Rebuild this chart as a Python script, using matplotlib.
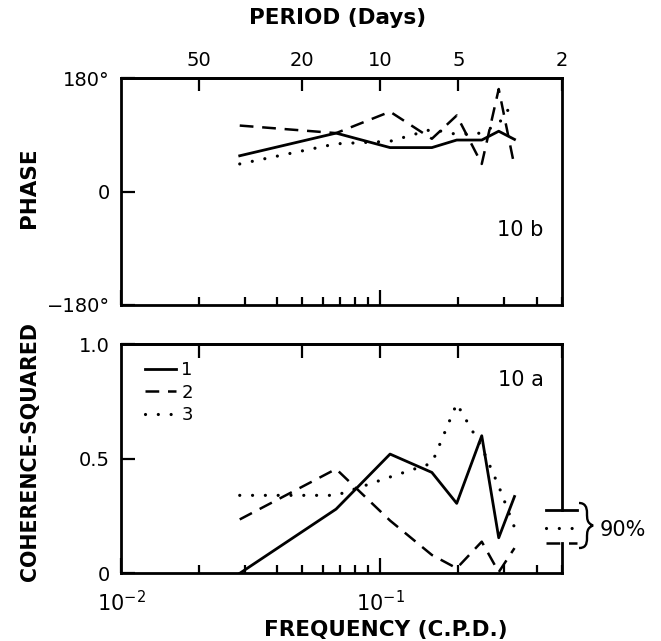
import numpy as np
import matplotlib
matplotlib.use("Agg")
import matplotlib.pyplot as plt
from matplotlib.path import Path
from matplotlib.patches import PathPatch
from matplotlib.ticker import FixedLocator, NullLocator, NullFormatter, LogLocator

# Band-averaged frequencies (cycles per day)
freq = [0.0287, 0.0675, 0.109, 0.158, 0.197, 0.246, 0.286, 0.329]

# Phase (degrees) for the three pairs
phase_1 = [57, 93, 70, 70, 82, 82, 96, 83]
phase_2 = [105, 93, 127, 84, 121, 44, 163, 40]
phase_3 = [44, 76, 80, 99, 91, 93, 108, 145]

# Coherence-squared for the three pairs
coh_1 = [0.0, 0.28, 0.52, 0.44, 0.305, 0.60, 0.155, 0.335]
coh_2 = [0.235, 0.455, 0.23, 0.08, 0.022, 0.138, 0.005, 0.11]
coh_3 = [0.34, 0.34, 0.42, 0.48, 0.74, 0.55, 0.38, 0.20]

series_labels = ["1", "2", "3"]
# 90% significance levels of coherence-squared
sig90 = [0.276, 0.131, 0.196]

period_ticks = [50, 20, 10, 5, 2]
phase_ticks = [-180, 0, 180]
phase_ticklabels = ["\u2212180°", "0", "180°"]
coh_ticks = [0, 0.5, 1.0]
coh_ticklabels = ["0", "0.5", "1.0"]

XLIM = (0.01, 0.5)
LW_AX = 2.0
TICK_FS = 14
LABEL_FS = 15.5
styles = [
    dict(linestyle="-", linewidth=2.0),
    dict(linestyle=(0, (5.5, 3.5)), linewidth=1.8),
    dict(linestyle=(0, (0.01, 4.0)), linewidth=2.3, dash_capstyle="round"),
]

fig = plt.figure(figsize=(6.61, 6.41), dpi=100)
ax1 = fig.add_axes([0.183, 0.5242, 0.6667, 0.3536])
ax2 = fig.add_axes([0.183, 0.1056, 0.6667, 0.3577])

for ax in (ax1, ax2):
    ax.set_xscale("log")
    ax.set_xlim(*XLIM)
    for sp in ax.spines.values():
        sp.set_linewidth(LW_AX)
    ax.xaxis.set_minor_locator(LogLocator(base=10, subs=np.arange(2, 10)))
    ax.tick_params(axis="x", which="major", direction="in", length=10.5,
                   width=1.6, top=False, labelsize=TICK_FS + 1, pad=12)
    ax.tick_params(axis="x", which="minor", direction="in", length=5.5,
                   width=1.6, top=False)
    ax.tick_params(axis="y", which="major", direction="in", length=10,
                   width=1.6, right=False, labelsize=TICK_FS, pad=8)

# ---- Phase panel ----
phases = [phase_1, phase_2, phase_3]
for vals, st in zip(phases, styles):
    ax1.plot(freq, vals, color="black", **st)
ax1.set_ylim(-180, 180)
ax1.set_yticks(phase_ticks)
ax1.set_yticklabels(phase_ticklabels)
ax1.xaxis.set_major_formatter(NullFormatter())
ax1.xaxis.set_minor_formatter(NullFormatter())
ax1.text(0.905, 0.331, "10 b", transform=ax1.transAxes, fontsize=15,
         ha="center", va="center")

sec1 = ax1.secondary_xaxis("top")
sec1.xaxis.set_major_locator(FixedLocator(1.0 / np.array(period_ticks)))
sec1.xaxis.set_minor_locator(NullLocator())
sec1.set_xticklabels([f"{p:g}" for p in period_ticks])
sec1.tick_params(axis="x", direction="in", length=9.5, width=1.6,
                 labelsize=TICK_FS, pad=6)
sec1.spines["top"].set_linewidth(LW_AX)

# ---- Coherence panel ----
cohs = [coh_1, coh_2, coh_3]
for vals, st, lab in zip(cohs, styles, series_labels):
    ax2.plot(freq, vals, color="black", label=lab, **st)
ax2.set_ylim(0, 1.0)
ax2.set_yticks(coh_ticks)
ax2.set_yticklabels(coh_ticklabels)
ax2.xaxis.set_major_locator(FixedLocator([0.01, 0.1]))
ax2.set_xticklabels([r"$10^{-2}$", r"$10^{-1}$"])
ax2.xaxis.set_minor_formatter(NullFormatter())
ax2.text(0.907, 0.843, "10 a", transform=ax2.transAxes, fontsize=15,
         ha="center", va="center")
ax2.legend(loc="upper left", bbox_to_anchor=(0.055, 0.925), frameon=False,
           fontsize=13, handlelength=1.7, handletextpad=0.3,
           labelspacing=0.25, borderpad=0, borderaxespad=0)

sec2 = ax2.secondary_xaxis("top")
sec2.xaxis.set_major_locator(FixedLocator(1.0 / np.array(period_ticks)))
sec2.xaxis.set_minor_locator(NullLocator())
sec2.xaxis.set_major_formatter(NullFormatter())
sec2.tick_params(axis="x", direction="in", length=10, width=1.6)
sec2.spines["top"].set_linewidth(LW_AX)

# Right spine interrupted by the significance markers
ax2.spines["right"].set_visible(False)
ytr = ax2.get_yaxis_transform()
ax2.plot([1, 1], [max(sig90), 1.0], color="black", lw=LW_AX,
         transform=ytr, clip_on=False, solid_capstyle="projecting")
ax2.plot([1, 1], [0.0, min(sig90)], color="black", lw=LW_AX,
         transform=ytr, clip_on=False, solid_capstyle="projecting")
for lvl, st in zip(sig90, styles):
    ax2.plot([0.9637, 1.034], [lvl, lvl], color="black", transform=ytr,
             clip_on=False, **st)

# Brace and label for the 90% levels
W, H = 661.0, 641.0
def px(x, y):
    return (x / W, 1 - y / H)
brace = [(579, 503), (585, 503), (587, 507), (587, 513),
         (587, 519), (587, 523), (593, 525.5),
         (587, 528), (587, 532), (587, 538),
         (587, 545), (585, 548), (579, 548)]
codes = [Path.MOVETO] + [Path.CURVE4] * 12
fig.patches.append(PathPatch(Path([px(*p) for p in brace], codes),
                             transform=fig.transFigure, fill=False,
                             lw=1.7, edgecolor="black"))
fig.text(623 / W, 1 - 530 / H, "90%", fontsize=15, ha="center", va="center")

fig.text(0.511, 0.972, "PERIOD (Days)", fontsize=LABEL_FS, fontweight="bold",
         ha="center", va="center")
fig.text(0.584, 0.017, "FREQUENCY (C.P.D.)", fontsize=LABEL_FS,
         fontweight="bold", ha="center", va="center")
fig.text(0.044, 0.707, "PHASE", rotation=90, fontsize=LABEL_FS,
         fontweight="bold", ha="center", va="center")
fig.text(0.045, 0.296, "COHERENCE-SQUARED", rotation=90, fontsize=14.8,
         fontweight="bold", ha="center", va="center")

fig.savefig("out.png", dpi=100)
